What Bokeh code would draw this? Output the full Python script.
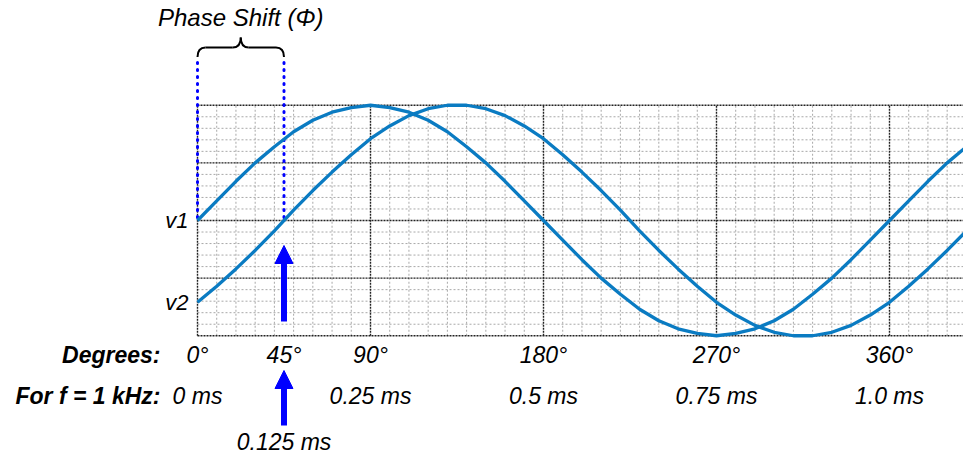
import numpy as np
from bokeh.plotting import figure
from bokeh.models import Range1d, Arrow, NormalHead
from bokeh.core.properties import value
from bokeh.embed import file_html
from bokeh.resources import INLINE

# ---------------- data ----------------
ANGLES = list(range(0, 401, 10))  # degrees
V1 = [0.00, 0.17, 0.34, 0.50, 0.64, 0.77, 0.87, 0.94, 0.98, 1.00,
      0.98, 0.94, 0.87, 0.77, 0.64, 0.50, 0.34, 0.17, 0.00, -0.17,
      -0.34, -0.50, -0.64, -0.77, -0.87, -0.94, -0.98, -1.00, -0.98, -0.94,
      -0.87, -0.77, -0.64, -0.50, -0.34, -0.17, 0.00, 0.17, 0.34, 0.50, 0.64]
V2 = [-0.71, -0.57, -0.42, -0.26, -0.09, 0.09, 0.26, 0.42, 0.57, 0.71,
      0.82, 0.91, 0.97, 1.00, 1.00, 0.97, 0.91, 0.82, 0.71, 0.57,
      0.42, 0.26, 0.09, -0.09, -0.26, -0.42, -0.57, -0.71, -0.82, -0.91,
      -0.97, -1.00, -1.00, -0.97, -0.91, -0.82, -0.71, -0.57, -0.42, -0.26, -0.09]
SERIES_NAMES = ["v1", "v2"]

DEG_TICKS = [0, 45, 90, 180, 270, 360]
DEG_LABELS = ["0°", "45°", "90°", "180°", "270°", "360°"]
MS_TICKS = [0, 90, 180, 270, 360]
MS_LABELS = ["0 ms", "0.25 ms", "0.5 ms", "0.75 ms", "1.0 ms"]
ROW_LABELS = ["Degrees:", "For f = 1 kHz:"]
PHASE = 45
PHASE_MS_LABEL = "0.125 ms"
PHASE_TITLE = "Phase Shift (Φ)"

GRID_MINOR_X = 10
GRID_MAJOR_X = 90
GRID_MINOR_Y = 0.1
GRID_MAJOR_Y = 0.5
GRID_X_END = 410

# ---------------- layout ----------------
W, H = 963, 457
X0_PX = 197.0          # canvas x of 0 deg
PX_PER_DEG = 1.9222
Y0_PX = 220.0          # canvas y of amplitude 0
PX_PER_UNIT = 115.25


def dx(px):   # pixel offset -> degrees
    return px / PX_PER_DEG


def ypage(page_y):   # canvas pixel y -> data y
    return (Y0_PX - page_y) / PX_PER_UNIT


p = figure(width=W, height=H, output_backend="svg", toolbar_location=None,
           x_range=Range1d(-X0_PX / PX_PER_DEG, (W - X0_PX) / PX_PER_DEG),
           y_range=Range1d(-(H - Y0_PX) / PX_PER_UNIT, Y0_PX / PX_PER_UNIT),
           x_axis_type=None, y_axis_type=None, min_border=0)
p.outline_line_color = None
p.background_fill_color = "white"
p.border_fill_color = "white"

FONT = value("Liberation Sans")

# ---------------- grid ----------------
xs_all = np.arange(0, GRID_X_END + 1e-9, GRID_MINOR_X)
ys_all = np.round(np.arange(-1, 1 + 1e-9, GRID_MINOR_Y), 6)
x_major = [x for x in xs_all if abs(x / GRID_MAJOR_X - round(x / GRID_MAJOR_X)) < 1e-6]
x_minor = [x for x in xs_all if x not in x_major]
y_major = [y for y in ys_all if abs(y / GRID_MAJOR_Y - round(y / GRID_MAJOR_Y)) < 1e-6]
y_minor = [y for y in ys_all if y not in y_major]

p.segment(x0=x_minor, y0=-1, x1=x_minor, y1=1, line_color="#a8a8a8",
          line_width=1, line_dash="2 2")
p.segment(x0=0, y0=y_minor, x1=GRID_X_END, y1=y_minor, line_color="#a8a8a8",
          line_width=1, line_dash="2 2")
p.segment(x0=x_major, y0=-1, x1=x_major, y1=1, line_color="#222222",
          line_width=1.4, line_dash="2 1")
p.segment(x0=0, y0=y_major, x1=GRID_X_END, y1=y_major, line_color="#222222",
          line_width=1.4, line_dash="2 1")

# ---------------- phase markers ----------------
top_y = ypage(62)
p.segment(x0=[0, PHASE], y0=top_y, x1=[0, PHASE], y1=[V1[0], 0.0],
          line_color="#0000ff", line_width=3, line_dash="1 6", line_cap="round")

# ---------------- curves ----------------
CURVE_COLOR = "#0a7bc2"
p.line(ANGLES, V1, line_color=CURVE_COLOR, line_width=3.3)
p.line(ANGLES, V2, line_color=CURVE_COLOR, line_width=3.3)

# ---------------- brace ----------------
yb_end = ypage(56.5)
yb_mid = ypage(47)
yb_tip = ypage(37)
xm = PHASE / 2
o = dx(8)
BR = dict(line_color="black", line_width=2)
p.quadratic(x0=[0, PHASE], y0=yb_end, x1=[o, PHASE - o], y1=yb_mid,
            cx=[0, PHASE], cy=yb_mid, **BR)
p.segment(x0=[o, xm + o], y0=yb_mid, x1=[xm - o, PHASE - o], y1=yb_mid, **BR)
p.quadratic(x0=[xm - o, xm + o], y0=yb_mid, x1=[xm, xm], y1=yb_tip,
            cx=[xm, xm], cy=yb_mid, **BR)

# ---------------- texts ----------------
p.text(x=[xm], y=[ypage(17)], text=[PHASE_TITLE], text_font=FONT,
       text_font_style="italic", text_font_size="24px", text_align="center",
       text_baseline="middle", text_color="black")

p.text(x=[-dx(9)] * 2, y=[V1[0], V2[0]], text=SERIES_NAMES, text_font=FONT,
       text_font_style="italic", text_font_size="22px", text_align="right",
       text_baseline="middle", text_color="black")

FS = "23px"
row_deg = ypage(354)
row_ms = ypage(395.5)
p.text(x=[-dx(37)] * 2, y=[row_deg, row_ms], text=ROW_LABELS, text_font=FONT,
       text_font_style="bold italic", text_font_size=FS, text_align="right",
       text_baseline="middle", text_color="black")
p.text(x=DEG_TICKS, y=row_deg, text=DEG_LABELS, text_font=FONT,
       text_font_style="italic", text_font_size=FS, text_align="center",
       text_baseline="middle", text_color="black")
p.text(x=MS_TICKS, y=row_ms, text=MS_LABELS, text_font=FONT,
       text_font_style="italic", text_font_size=FS, text_align="center",
       text_baseline="middle", text_color="black")
p.text(x=[PHASE], y=[ypage(441)], text=[PHASE_MS_LABEL], text_font=FONT,
       text_font_style="italic", text_font_size=FS, text_align="center",
       text_baseline="middle", text_color="black")

# ---------------- arrows ----------------
for y_start, y_end in [(ypage(321), ypage(245)), (ypage(425), ypage(370))]:
    p.add_layout(Arrow(end=NormalHead(size=18, fill_color="#0000ff", line_color="#0000ff"),
                       x_start=PHASE, y_start=y_start, x_end=PHASE, y_end=y_end,
                       line_color="#0000ff", line_width=6))

open("out.html", "w").write(file_html(p, INLINE))
